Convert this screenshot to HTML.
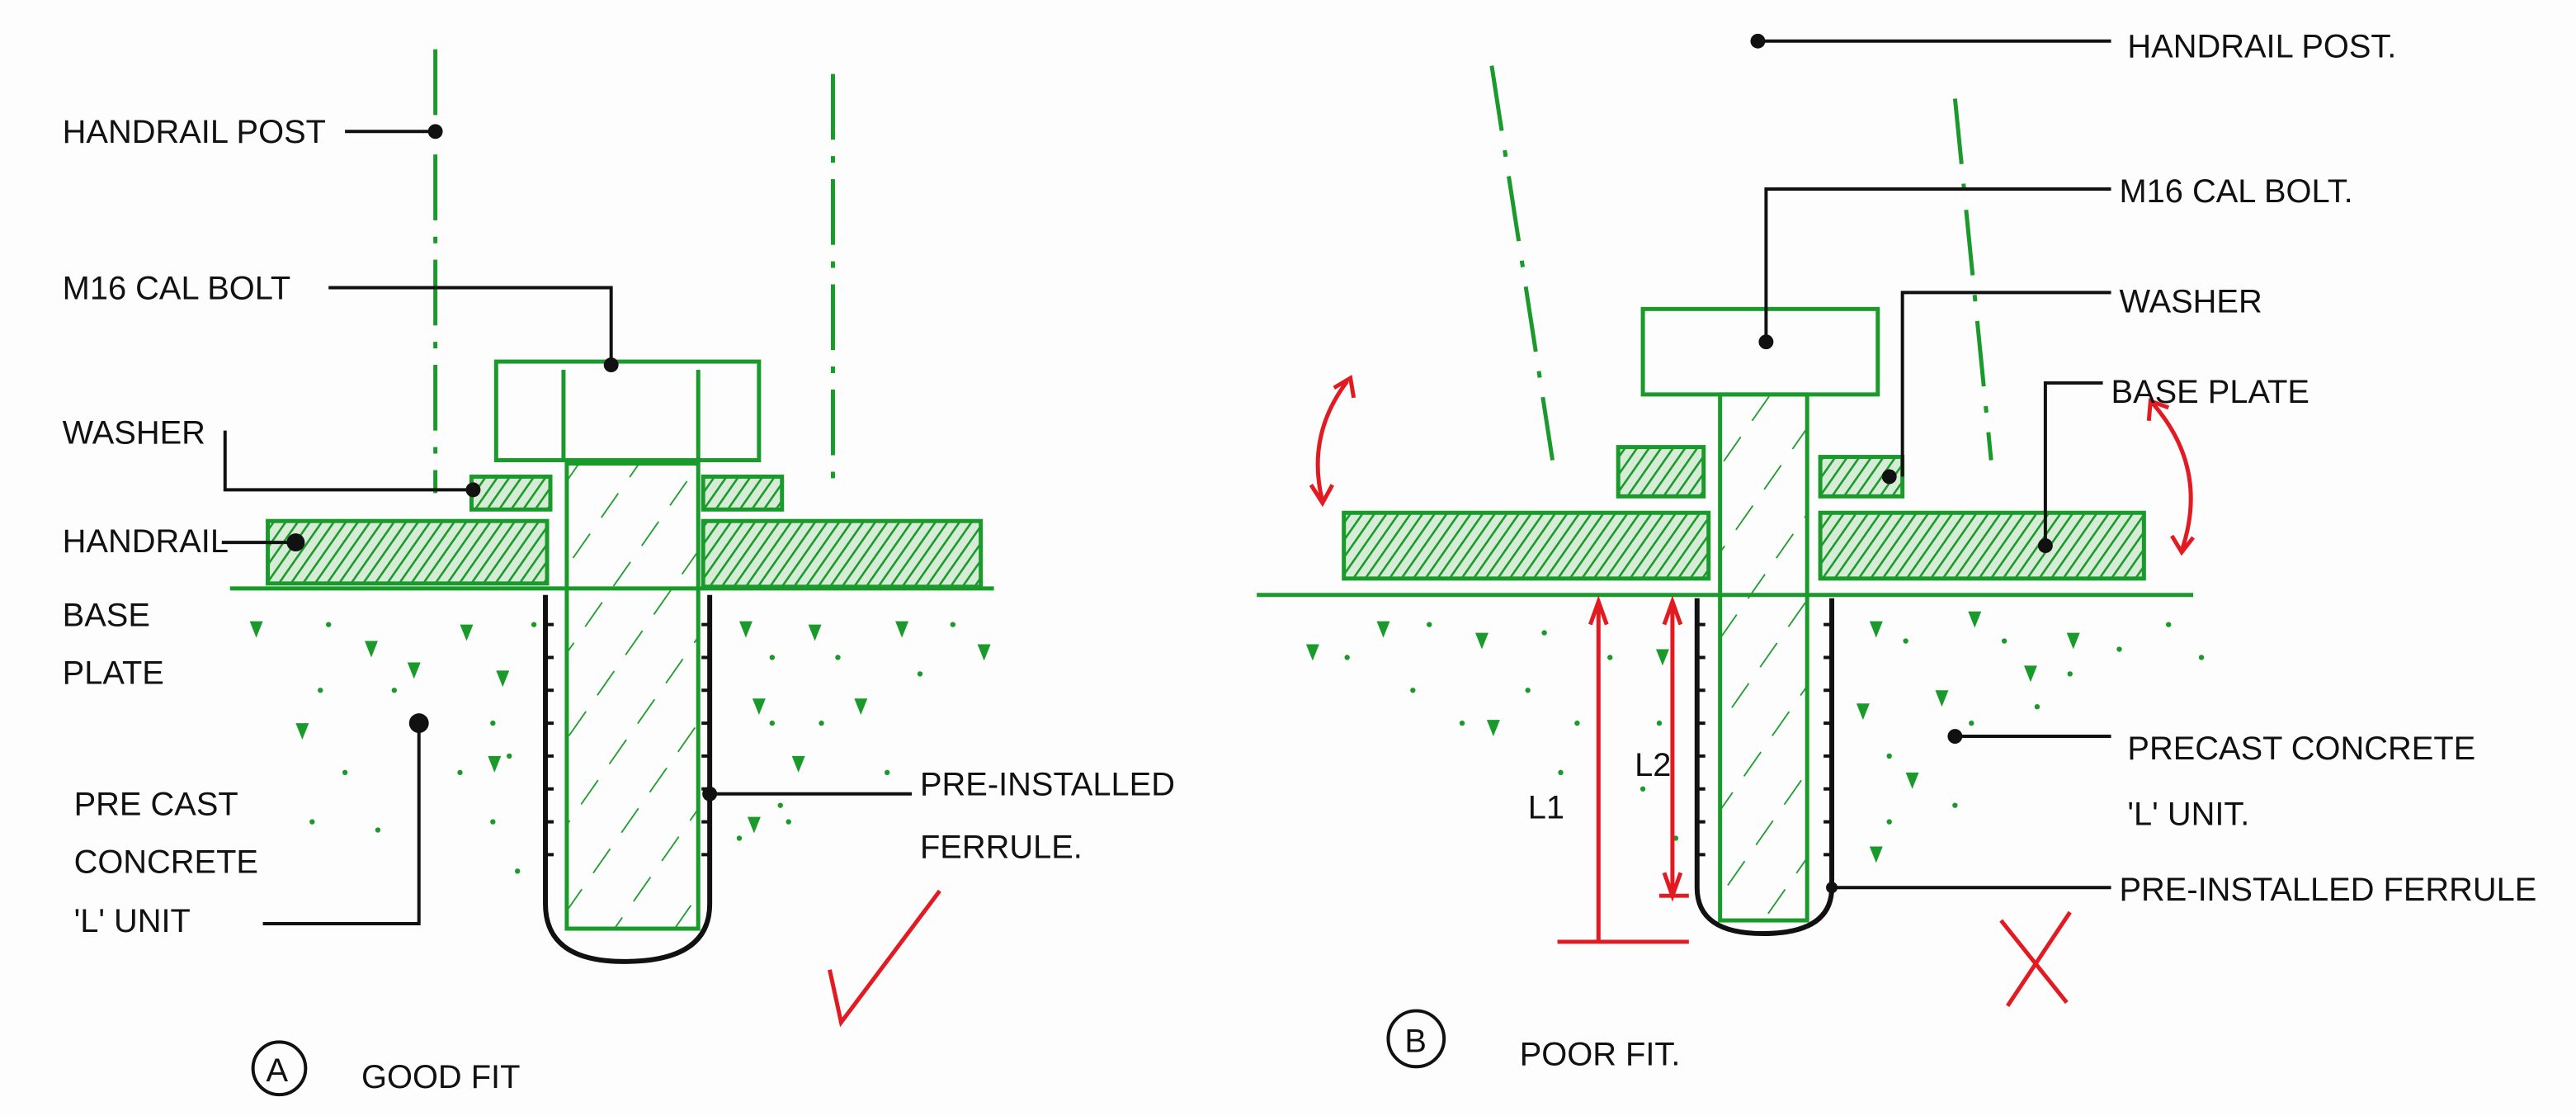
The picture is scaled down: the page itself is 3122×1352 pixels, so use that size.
<!DOCTYPE html>
<html><head><meta charset="utf-8"><style>
html,body{margin:0;padding:0;background:#fdfdfd;}
svg{display:block;}
text{font-family:"Liberation Sans",sans-serif;fill:#111;font-size:20px;}
</style></head><body>
<svg width="3122" height="1352" viewBox="0 0 1568 679" preserveAspectRatio="none" xmlns="http://www.w3.org/2000/svg">
<defs>
<pattern id="h" width="6" height="6" patternUnits="userSpaceOnUse" patternTransform="rotate(35)">
<rect width="6" height="6" fill="#d6ecd6"/><line x1="0" y1="0" x2="0" y2="6" stroke="#1a9a2a" stroke-width="2.6"/></pattern>
<pattern id="s" width="30" height="30" patternUnits="userSpaceOnUse" patternTransform="rotate(35)">
<line x1="0" y1="0" x2="0" y2="30" stroke="#1a9a2a" stroke-width="1.8" stroke-dasharray="18 12"/></pattern>
</defs>
<rect width="1568" height="679" fill="#fdfdfd"/>
<g stroke="#1a9a2a" fill="none" stroke-width="2.5">
<line x1="265" y1="30" x2="265" y2="300" stroke-dasharray="40 10 4 10"/>
<line x1="507" y1="45" x2="507" y2="300" stroke-dasharray="40 10 4 10"/>
<rect x="302" y="220" width="160" height="60"/>
<line x1="343" y1="225" x2="343" y2="280"/><line x1="425" y1="225" x2="425" y2="280"/>
<rect x="345" y="282" width="80" height="283" fill="url(#s)"/>
<rect x="287" y="290" width="48" height="20" fill="url(#h)"/>
<rect x="428" y="290" width="48" height="20" fill="url(#h)"/>
<rect x="163" y="317" width="170" height="38" fill="url(#h)"/>
<rect x="428" y="317" width="169" height="40" fill="url(#h)"/>
<line x1="140" y1="358" x2="605" y2="358"/>
<line x1="908" y1="40" x2="945" y2="280" stroke-dasharray="40 12 4 12"/>
<line x1="1190" y1="60" x2="1212" y2="280" stroke-dasharray="40 12 4 12"/>
<rect x="1000" y="188" width="143" height="52"/>
<rect x="1047" y="240" width="53" height="320" fill="url(#s)"/>
<rect x="985" y="272" width="52" height="30" fill="url(#h)"/>
<rect x="1108" y="278" width="50" height="24" fill="url(#h)"/>
<rect x="818" y="312" width="222" height="40" fill="url(#h)"/>
<rect x="1108" y="312" width="197" height="40" fill="url(#h)"/>
<line x1="765" y1="362" x2="1335" y2="362"/>
</g>
<g fill="#1a9a2a">
<path d="M152 378l8 0-4 10z M222 390l8 0-4 10z M280 380l8 0-4 10z M297 460l8 0-4 10z M180 440l8 0-4 10z M450 378l8 0-4 10z M492 380l8 0-4 10z M545 378l8 0-4 10z M595 392l8 0-4 10z M458 425l8 0-4 10z M520 425l8 0-4 10z M482 460l8 0-4 10z M302 408l8 0-4 10z M248 403l8 0-4 10z M455 497l8 0-4 10z"/>
<path d="M795 392l8 0-4 10z M838 378l8 0-4 10z M898 385l8 0-4 10z M1008 395l8 0-4 10z M1130 428l8 0-4 10z M1138 378l8 0-4 10z M1198 372l8 0-4 10z M1258 385l8 0-4 10z M1232 405l8 0-4 10z M1178 420l8 0-4 10z M1138 515l8 0-4 10z M1160 470l8 0-4 10z M905 438l8 0-4 10z"/>
<g>
<circle cx="200" cy="380" r="1.6"/><circle cx="240" cy="420" r="1.6"/><circle cx="195" cy="420" r="1.6"/><circle cx="210" cy="470" r="1.6"/><circle cx="280" cy="470" r="1.6"/><circle cx="300" cy="500" r="1.6"/><circle cx="315" cy="530" r="1.6"/><circle cx="230" cy="505" r="1.6"/><circle cx="300" cy="440" r="1.6"/><circle cx="190" cy="500" r="1.6"/><circle cx="325" cy="380" r="1.6"/><circle cx="310" cy="460" r="1.6"/>
<circle cx="470" cy="400" r="1.6"/><circle cx="510" cy="400" r="1.6"/><circle cx="560" cy="410" r="1.6"/><circle cx="580" cy="380" r="1.6"/><circle cx="470" cy="440" r="1.6"/><circle cx="500" cy="440" r="1.6"/><circle cx="540" cy="470" r="1.6"/><circle cx="475" cy="490" r="1.6"/><circle cx="450" cy="510" r="1.6"/><circle cx="480" cy="500" r="1.6"/>
<circle cx="820" cy="400" r="1.6"/><circle cx="870" cy="380" r="1.6"/><circle cx="860" cy="420" r="1.6"/><circle cx="940" cy="385" r="1.6"/><circle cx="930" cy="420" r="1.6"/><circle cx="890" cy="440" r="1.6"/><circle cx="960" cy="440" r="1.6"/><circle cx="980" cy="400" r="1.6"/><circle cx="1010" cy="440" r="1.6"/><circle cx="1000" cy="480" r="1.6"/><circle cx="950" cy="470" r="1.6"/><circle cx="1020" cy="510" r="1.6"/>
<circle cx="1160" cy="390" r="1.6"/><circle cx="1220" cy="390" r="1.6"/><circle cx="1290" cy="395" r="1.6"/><circle cx="1320" cy="380" r="1.6"/><circle cx="1340" cy="400" r="1.6"/><circle cx="1200" cy="440" r="1.6"/><circle cx="1240" cy="430" r="1.6"/><circle cx="1150" cy="460" r="1.6"/><circle cx="1190" cy="490" r="1.6"/><circle cx="1150" cy="500" r="1.6"/><circle cx="1260" cy="410" r="1.6"/>
</g></g>
<g stroke="#111" fill="none" stroke-width="3">
<path d="M332 362 L332 550 Q332 585 380 585 Q432 585 432 550 L432 362"/>
<path d="M332 380 L337 380 M332 400 L337 400 M332 420 L337 420 M332 440 L337 440 M332 460 L337 460 M332 480 L337 480 M332 500 L337 500 M332 520 L337 520 M432 380 L427 380 M432 400 L427 400 M432 420 L427 420 M432 440 L427 440 M432 460 L427 460 M432 480 L427 480 M432 500 L427 500 M432 520 L427 520" stroke-width="2"/>
<path d="M1033 364 L1033 540 Q1033 568 1073 568 Q1115 568 1115 540 L1115 364"/>
<path d="M1033 380 L1038 380 M1033 400 L1038 400 M1033 420 L1038 420 M1033 440 L1038 440 M1033 460 L1038 460 M1033 480 L1038 480 M1033 500 L1038 500 M1033 520 L1038 520 M1115 380 L1110 380 M1115 400 L1110 400 M1115 420 L1110 420 M1115 440 L1110 440 M1115 460 L1110 460 M1115 480 L1110 480 M1115 500 L1110 500 M1115 520 L1110 520" stroke-width="2"/>
</g>
<g stroke="#111" fill="none" stroke-width="2">
<path d="M210 80H265"/><path d="M200 175H372V222"/><path d="M137 262V298H288"/><path d="M135 330H180"/><path d="M160 562H255V440"/><path d="M432 483H555"/>
<path d="M1070 25H1285"/><path d="M1285 115H1075V208"/><path d="M1285 178H1158V290"/><path d="M1280 233H1245V332"/><path d="M1190 448H1285"/><path d="M1115 540H1285"/>
</g>
<g fill="#111">
<circle cx="265" cy="80" r="4.5"/><circle cx="372" cy="222" r="4.5"/><circle cx="288" cy="298" r="4.5"/><circle cx="180" cy="330" r="5.5"/><circle cx="255" cy="440" r="6"/><circle cx="432" cy="483" r="4.5"/>
<circle cx="1070" cy="25" r="4.5"/><circle cx="1075" cy="208" r="4.5"/><circle cx="1150" cy="290" r="4.5"/><circle cx="1245" cy="332" r="4.5"/><circle cx="1190" cy="448" r="4.5"/><circle cx="1115" cy="540" r="3.5"/>
</g>
<g stroke="#e21b23" fill="none" stroke-width="2.5">
<path d="M505 590 L512 622 L572 542"/>
<path d="M1218 560 L1258 610 M1260 555 L1222 612"/>
<path d="M973 366V573 M948 573H1028 M968 380L973 366L978 380"/>
<path d="M1018 366V545 M1010 545H1028 M1013 380L1018 366L1023 380 M1013 531L1018 545L1023 531"/>
<path d="M820 232 Q795 265 805 305 M812 236L822 230L824 242 M798 295L805 306L811 295"/>
<path d="M1310 245 Q1345 285 1328 335 M1308 256L1309 244L1320 248 M1322 326L1328 336L1335 327"/>
</g>
<text x="930" y="498">L1</text><text x="995" y="472">L2</text>
<text x="38" y="87">HANDRAIL POST</text>
<text x="38" y="182">M16 CAL BOLT</text>
<text x="38" y="270">WASHER</text>
<text x="38" y="336">HANDRAIL</text><text x="38" y="381">BASE</text><text x="38" y="416">PLATE</text>
<text x="45" y="496">PRE CAST</text><text x="45" y="531">CONCRETE</text><text x="45" y="567">'L' UNIT</text>
<text x="560" y="484">PRE-INSTALLED</text><text x="560" y="522">FERRULE.</text>
<circle cx="170" cy="650" r="16" fill="none" stroke="#111" stroke-width="2"/><text x="162" y="658">A</text>
<text x="220" y="662" font-size="22">GOOD FIT</text>
<text x="1295" y="35">HANDRAIL POST.</text>
<text x="1290" y="123">M16 CAL BOLT.</text>
<text x="1290" y="190">WASHER</text>
<text x="1285" y="245">BASE PLATE</text>
<text x="1295" y="462">PRECAST CONCRETE</text><text x="1295" y="502">'L' UNIT.</text>
<text x="1290" y="548">PRE-INSTALLED FERRULE</text>
<circle cx="862" cy="632" r="17" fill="none" stroke="#111" stroke-width="2"/><text x="855" y="640">B</text>
<text x="925" y="648" font-size="22">POOR FIT.</text>
</svg>
</body></html>
